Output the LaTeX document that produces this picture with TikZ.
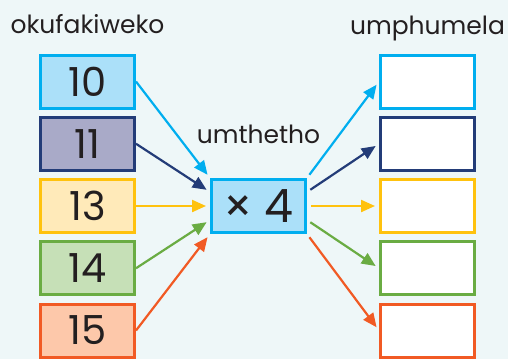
\documentclass[tikz,border=0pt]{standalone}
\usepackage{fontspec}
\setmainfont{Poppins}
\usetikzlibrary{arrows.meta, positioning}
\definecolor{BgTint}{RGB}{238,247,248}
\definecolor{CyanLine}{RGB}{0,174,239}
\definecolor{CyanFill}{RGB}{171,224,249}
\definecolor{NavyLine}{RGB}{35,60,120}
\definecolor{NavyFill}{RGB}{169,170,200}
\definecolor{SunLine}{RGB}{255,194,14}
\definecolor{SunFill}{RGB}{255,234,185}
\definecolor{LeafLine}{RGB}{106,172,67}
\definecolor{LeafFill}{RGB}{198,224,183}
\definecolor{RustLine}{RGB}{241,90,36}
\definecolor{RustFill}{RGB}{253,200,170}
\definecolor{InkGray}{RGB}{35,31,32}

\begin{document}
\begin{tikzpicture}[
                node distance=6.25pt and 74pt,
                numbox/.style={rectangle, line width=3pt, minimum width=94pt, minimum height=53pt,
                               inner sep=0pt, text=InkGray, font=\fontsize{40}{44}\selectfont},
                outbox/.style={numbox, fill=white},
                lbl/.style={text=InkGray, font=\fontsize{25}{29}\selectfont, inner sep=0pt},
                arr/.style={-{Triangle[length=14pt, width=12pt]}, line width=2.2pt, shorten >=4pt}
            ]
                \fill[BgTint] (0,0) rectangle (508pt,-359pt);
                \useasboundingbox (0,0) rectangle (508pt,-359pt);

                % inputs
                \node[numbox, draw=SunLine, fill=SunFill] (n13) at (87.5pt,-206pt) {13};
                \node[numbox, draw=NavyLine, fill=NavyFill, above=of n13] (n11) {11};
                \node[numbox, draw=CyanLine, fill=CyanFill, above=of n11] (n10) {10};
                \node[numbox, draw=LeafLine, fill=LeafFill, below=of n13] (n14) {14};
                \node[numbox, draw=RustLine, fill=RustFill, below=of n14] (n15) {15};

                % rule
                \node[numbox, draw=CyanLine, fill=CyanFill, right=of n13,
                      font=\fontsize{46}{50}\selectfont] (rule) {× 4};

                % outputs
                \node[outbox, draw=SunLine, right=72pt of rule] (o13) {};
                \node[outbox, draw=NavyLine, above=of o13] (o11) {};
                \node[outbox, draw=CyanLine, above=of o11] (o10) {};
                \node[outbox, draw=LeafLine, below=of o13] (o14) {};
                \node[outbox, draw=RustLine, below=of o14] (o15) {};

                \node[lbl, above=20pt of n10, anchor=base] (inlbl) {okufakiweko};
                \node[lbl, above=19pt of o10, anchor=base] (outlbl) {umphumela};
                \node[lbl, above=35pt of rule, anchor=base] (rulelbl) {umthetho};

                \draw[arr, CyanLine] (n10.east) -- (rule.north west);
                \draw[arr, NavyLine] (n11.east) -- ([yshift=14pt]rule.west);
                \draw[arr, SunLine] (n13.east) -- (rule.west);
                \draw[arr, LeafLine] (n14.east) -- ([yshift=-14pt]rule.west);
                \draw[arr, RustLine] (n15.east) -- (rule.south west);

                \draw[arr, CyanLine, shorten <=4pt] (rule.north east) -- (o10.west);
                \draw[arr, NavyLine, shorten <=4pt] ([yshift=14pt]rule.east) -- (o11.west);
                \draw[arr, SunLine, shorten <=4pt] (rule.east) -- (o13.west);
                \draw[arr, LeafLine, shorten <=4pt] ([yshift=-14pt]rule.east) -- (o14.west);
                \draw[arr, RustLine, shorten <=4pt] (rule.south east) -- (o15.west);
            \end{tikzpicture}
\end{document}
